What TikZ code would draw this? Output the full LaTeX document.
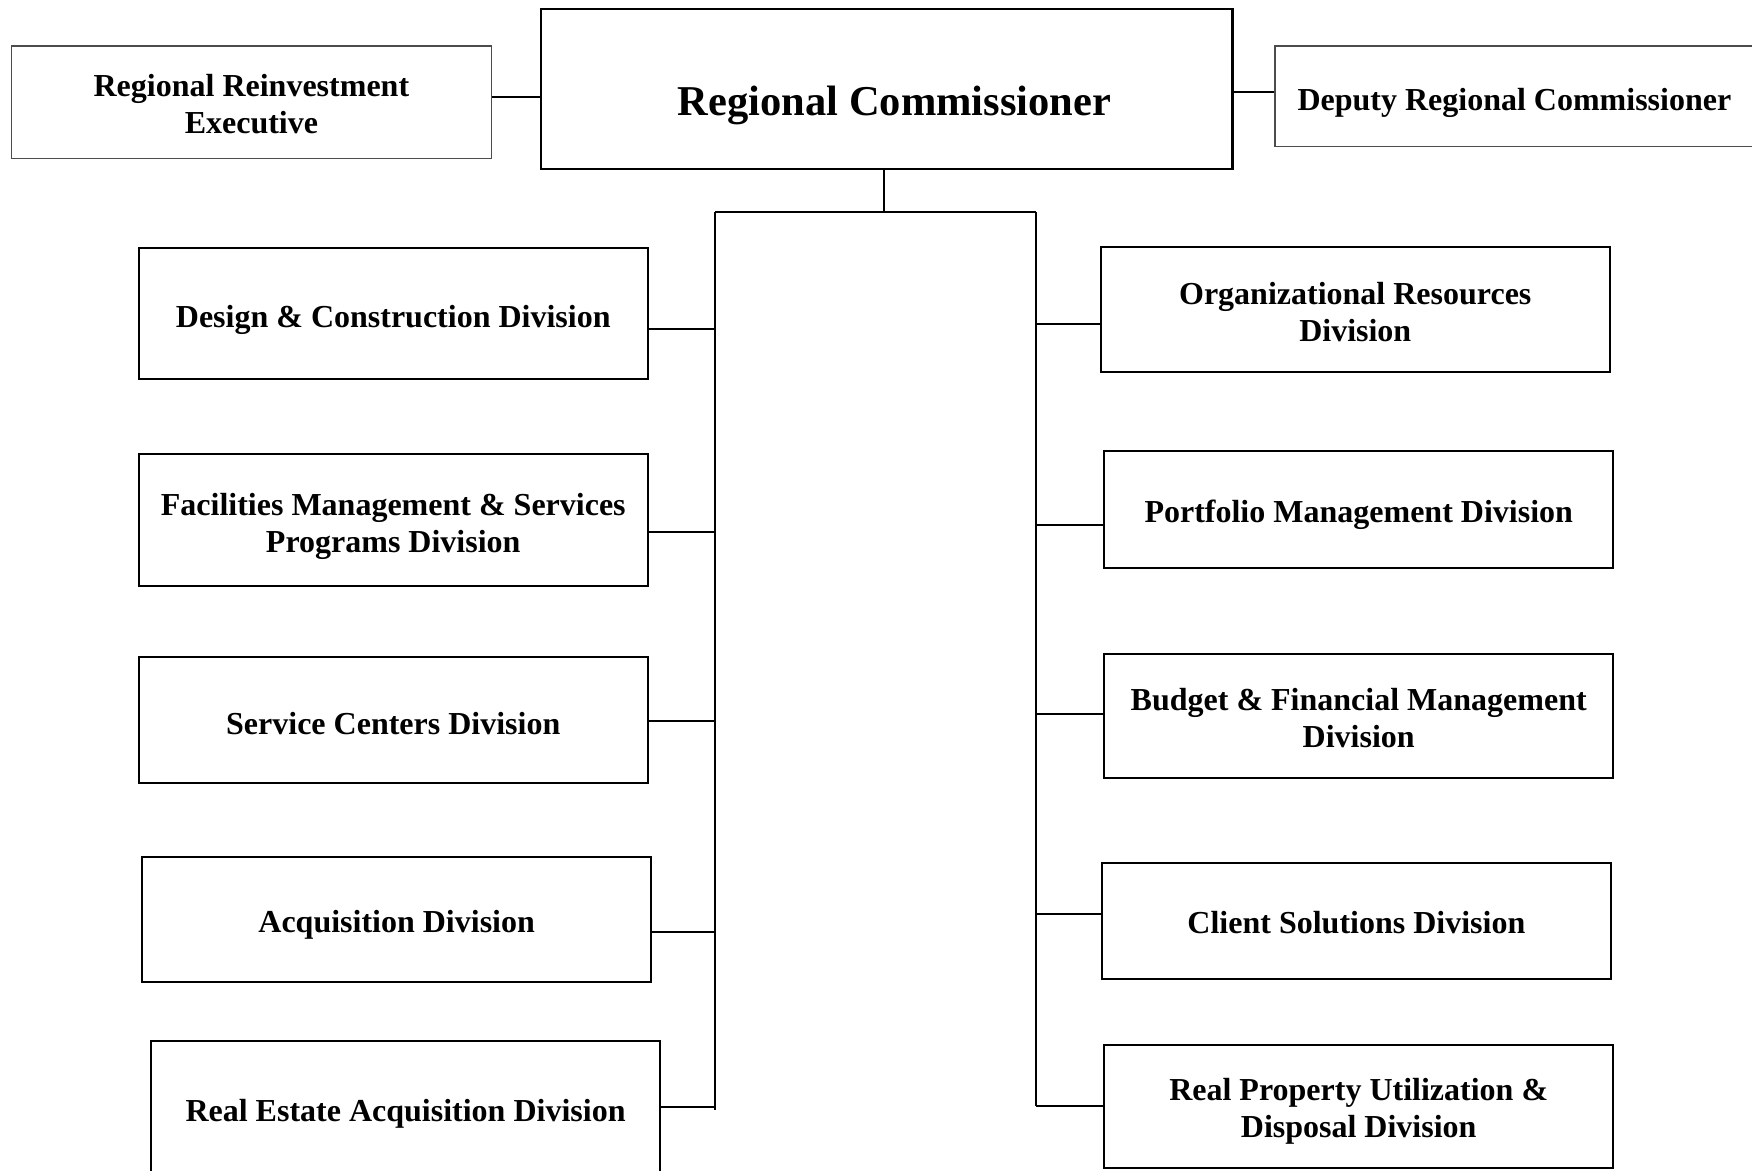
\documentclass[tikz,border=0pt]{standalone}
\usepackage{fontspec}
\setmainfont{Liberation Serif}
\begin{document}
\begin{tikzpicture}[x=1pt,y=-1pt,
  box/.style={draw=black,line width=2pt,inner sep=0pt},
  lightbox/.style={box,draw=black!70,line width=1.4pt},
  bigbox/.style={box,line width=2.4pt},
  lbl/.style={inner sep=0pt,align=center,font=\bfseries\fontsize{32}{36.8}\selectfont},
  biglbl/.style={lbl,font=\bfseries\fontsize{42.5}{48}\selectfont},
  conn/.style={line width=2pt,black}]
\useasboundingbox (0,0) rectangle (1752,1170);
\fill[white] (0,0) rectangle (1752,1170);

% top row
\node[lightbox,minimum width=480.4pt,minimum height=112.9pt,
  label={[lbl,yshift=-2.2pt]center:Regional Reinvestment\\Executive}] (rre) at (251.4,102.25) {};
\node[bigbox,minimum width=691.6pt,minimum height=159.8pt,
  label={[biglbl,yshift=-17pt,xshift=8pt]center:Regional Commissioner}] (rc) at (886.6,88.8) {};
\node[lightbox,minimum width=479.2pt,minimum height=100.6pt,
  label={[lbl,yshift=-6.5pt]center:Deputy Regional Commissioner}] (drc) at (1514.4,96.1) {};

% left column
\node[box,minimum width=509.5pt,minimum height=130.8pt,
  label={[lbl,yshift=-6.5pt]center:Design \& Construction Division}] (dc) at (393.25,313.4) {};
\node[box,minimum width=509.5pt,minimum height=131.9pt,
  label={[lbl,yshift=-6.5pt]center:Facilities Management \& Services\\Programs Division}] (fm) at (393.25,519.55) {};
\node[box,minimum width=509.5pt,minimum height=126pt,
  label={[lbl,yshift=-3.4pt]center:Service Centers Division}] (sc) at (393.25,720) {};
\node[box,minimum width=509.5pt,minimum height=125pt,
  label={[lbl,yshift=-5.5pt]center:Acquisition Division}] (aq) at (396.65,919.5) {};
\node[box,minimum width=509.5pt,minimum height=138.6pt,
  label={[lbl,yshift=-3.4pt]center:Real Estate Acquisition Division}] (rea) at (405.55,1110.6) {};

% right column
\node[box,minimum width=509.5pt,minimum height=125pt,
  label={[lbl,yshift=-2.8pt]center:Organizational Resources\\Division}] (or) at (1355.25,309.5) {};
\node[box,minimum width=509.4pt,minimum height=116.2pt,
  label={[lbl,yshift=-5.5pt]center:Portfolio Management Division}] (pm) at (1358.7,509.5) {};
\node[box,minimum width=509.4pt,minimum height=124pt,
  label={[lbl,yshift=-2.2pt]center:Budget \& Financial Management\\Division}] (bf) at (1358.7,715.6) {};
\node[box,minimum width=509.6pt,minimum height=116.2pt,
  label={[lbl,yshift=-2.2pt]center:Client Solutions Division}] (cs) at (1356.4,920.7) {};
\node[box,minimum width=509.4pt,minimum height=122.9pt,
  label={[lbl,yshift=-5pt]center:Real Property Utilization \&\\Disposal Division}] (rp) at (1358.7,1106.1) {};

% junction coordinates
\coordinate (jrre) at (0,97.2);
\coordinate (jdrc) at (0,91.6);
\coordinate (bar) at (884,212.3);
\coordinate (ltop) at (715,212.3);
\coordinate (lbot) at (715,1109.5);
\coordinate (rtop) at (1036,212.3);
\coordinate (rbot) at (1036,1106);
\coordinate (ldc) at (715,328.5);
\coordinate (lfm) at (715,531.8);
\coordinate (lsc) at (715,720.7);
\coordinate (laq) at (715,931.8);
\coordinate (lrea) at (715,1107.2);
\coordinate (ror) at (1036,324);
\coordinate (rpm) at (1036,525);
\coordinate (rbf) at (1036,714);
\coordinate (rcs) at (1036,914);
\coordinate (rrp) at (1036,1106);

% connectors
\draw[conn] (rre.east |- jrre) -- (rc.west |- jrre);
\draw[conn] (rc.east |- jdrc) -- (drc.west |- jdrc);
\draw[conn] (rc.south -| bar) -- (bar);
\draw[conn] (ltop) -- (rtop);
\draw[conn] (ltop) -- (lbot);
\draw[conn] (rtop) -- (rbot);
\draw[conn] (dc.east |- ldc) -- (ldc);
\draw[conn] (fm.east |- lfm) -- (lfm);
\draw[conn] (sc.east |- lsc) -- (lsc);
\draw[conn] (aq.east |- laq) -- (laq);
\draw[conn] (rea.east |- lrea) -- (lrea);
\draw[conn] (ror) -- (or.west |- ror);
\draw[conn] (rpm) -- (pm.west |- rpm);
\draw[conn] (rbf) -- (bf.west |- rbf);
\draw[conn] (rcs) -- (cs.west |- rcs);
\draw[conn] (rrp) -- (rp.west |- rrp);
\end{tikzpicture}
\end{document}
